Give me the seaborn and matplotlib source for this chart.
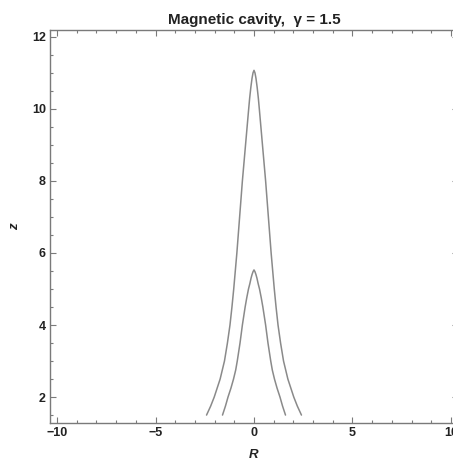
import numpy as np
import pandas as pd
import matplotlib
matplotlib.use("Agg")
import matplotlib.pyplot as plt
from matplotlib.ticker import MultipleLocator
import seaborn as sns

# Half-profiles (R >= 0) of the two cavity boundaries; mirrored about R = 0
outer_z = [11.07, 11.0, 10.85, 10.6, 10.3, 10.0, 9.5, 9.0, 8.5, 8.0, 7.5, 7.0, 6.5, 6.0,
           5.5, 5.0, 4.5, 4.0, 3.5, 3.0, 2.5, 2.0, 1.75, 1.5]
outer_r = [0.0, 0.05, 0.10, 0.16, 0.22, 0.27, 0.35, 0.43, 0.51, 0.59, 0.66, 0.73, 0.80, 0.87,
           0.95, 1.03, 1.12, 1.22, 1.35, 1.50, 1.72, 2.02, 2.20, 2.41]
inner_z = [5.53, 5.48, 5.4, 5.3, 5.15, 5.0, 4.75, 4.5, 4.25, 4.0, 3.75, 3.5, 3.25, 3.0,
           2.75, 2.5, 2.25, 2.0, 1.75, 1.5]
inner_r = [0.0, 0.05, 0.10, 0.15, 0.21, 0.28, 0.37, 0.45, 0.52, 0.59, 0.65, 0.71, 0.78, 0.85,
           0.93, 1.04, 1.17, 1.32, 1.45, 1.60]

x_ticks = [-10, -5, 0, 5, 10]
y_ticks = [2, 4, 6, 8, 10, 12]


def arch(r, z, name):
    r = np.asarray(r)
    z = np.asarray(z)
    rr = np.concatenate([-r[::-1], r[1:]])
    zz = np.concatenate([z[::-1], z[1:]])
    return pd.DataFrame({"R": rr, "z": zz, "curve": name})


df = pd.concat([arch(outer_r, outer_z, "outer"), arch(inner_r, inner_z, "inner")],
               ignore_index=True)

sns.set_theme(style="ticks")
plt.rcParams["font.family"] = ["Liberation Sans", "DejaVu Sans"]

fig = plt.figure(figsize=(4.53, 4.61), dpi=100)
ax = fig.add_axes([50 / 453, 38 / 461, 408 / 453, 393 / 461])

for name in ["outer", "inner"]:
    sns.lineplot(data=df[df.curve == name], x="R", y="z", sort=False, estimator=None,
                 color="#8a8a8a", linewidth=1.1, ax=ax)

ax.set_xlim(-10.36, 10.36)
ax.set_ylim(1.28, 12.19)
ax.set_xticks(x_ticks)
ax.set_yticks(y_ticks)
ax.set_xticklabels(["\u221210", "\u22125", "0", "5", "10"])
ax.xaxis.set_minor_locator(MultipleLocator(1))
ax.yaxis.set_minor_locator(MultipleLocator(0.5))

for side in ["left", "right", "top", "bottom"]:
    ax.spines[side].set_visible(True)
    ax.spines[side].set_color("#7a7a7a")
    ax.spines[side].set_linewidth(1.0)

ax.tick_params(which="both", direction="in", top=True, right=True, color="#7a7a7a",
               width=0.8, labelsize=9, labelcolor="#222222", pad=3)
ax.tick_params(which="major", length=4.5)
ax.tick_params(which="minor", length=2.5)
for lbl in ax.get_xticklabels() + ax.get_yticklabels():
    lbl.set_fontweight("bold")

ax.set_xlabel("R", fontsize=9.5, fontstyle="italic", fontweight="bold", color="#222222", labelpad=7)
ax.set_ylabel("z", fontsize=9.5, fontstyle="italic", fontweight="bold", color="#222222", labelpad=8)
ax.set_title("Magnetic cavity,  \u03b3 = 1.5", fontsize=11, fontweight="bold", color="#222222", pad=4)

fig.savefig("out.png", dpi=100)
